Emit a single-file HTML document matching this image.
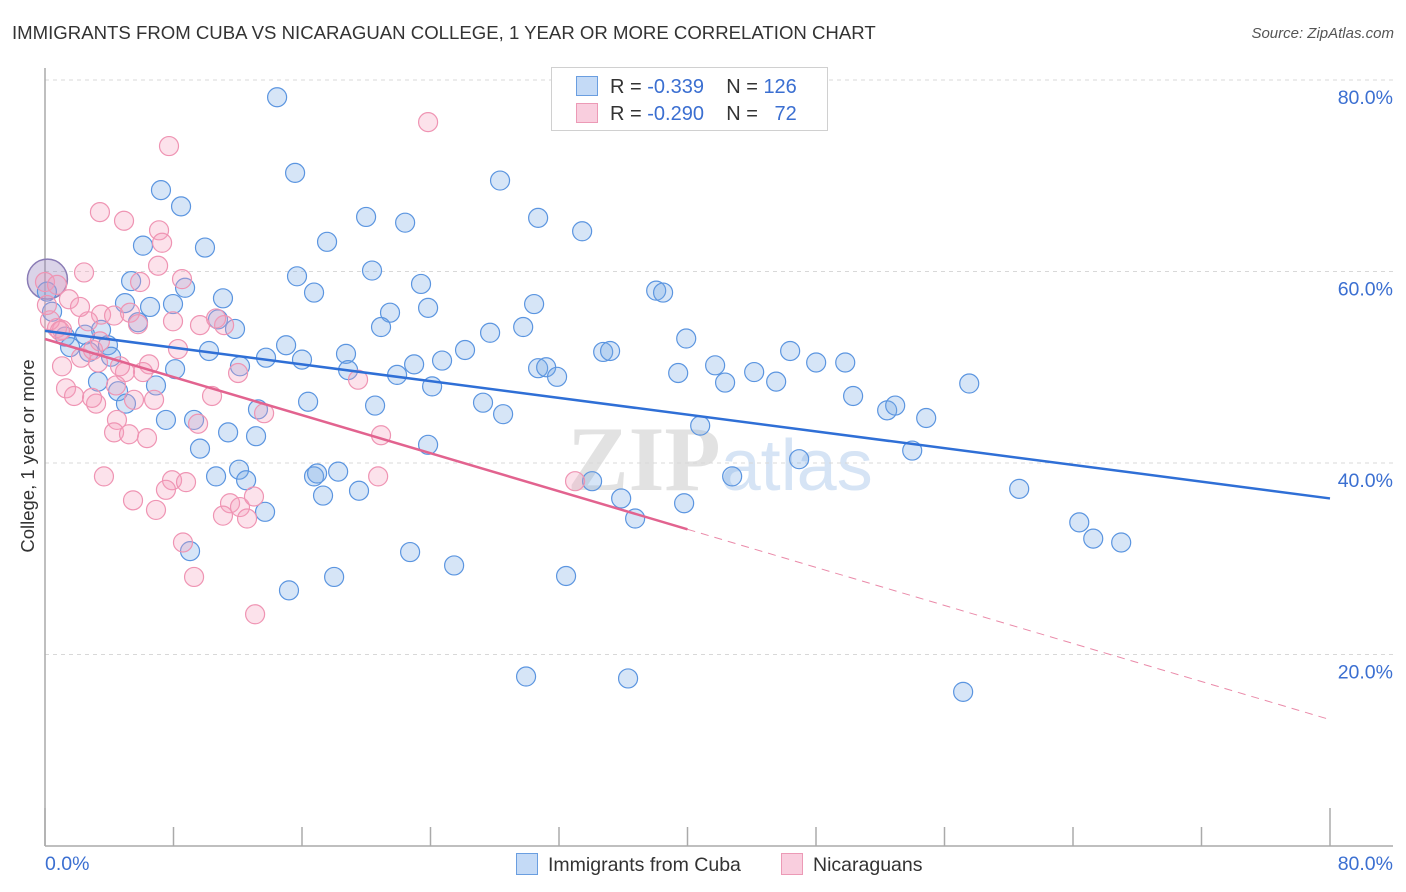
<!DOCTYPE html>
<html><head><meta charset="utf-8"><style>
body{margin:0;background:#fff;font-family:"Liberation Sans",sans-serif;}
#wrap{position:relative;width:1406px;height:892px;overflow:hidden;}
.t{position:absolute;white-space:nowrap;}
</style></head><body>
<div id="wrap">
<div class="t" style="left:12px;top:22px;font-size:18.6px;color:#333;">IMMIGRANTS FROM CUBA VS NICARAGUAN COLLEGE, 1 YEAR OR MORE CORRELATION CHART</div>
<div class="t" style="right:12px;top:25px;font-size:15px;color:#555;font-style:italic;">Source: ZipAtlas.com</div>
<svg id="chart" width="1406" height="892" style="position:absolute;left:0;top:0"></svg>
</div>
<script>
const xTickVals=[0,8,16,24,32,40,48,56,64,72,80];
const yTickVals=[20,40,60,80];
const yTickLabels=["20.0%","40.0%","60.0%","80.0%"];
const xEndLabels=["0.0%","80.0%"];
const cubaX=[14.45,15.57,28.33,7.22,8.47,19.99,22.42,30.70,33.44,17.56,6.10,9.96,20.36,15.69,23.41,5.36,8.72,16.75,38.05,38.48,11.08,4.98,6.54,23.85,30.45,21.48,7.97,0.44,0.12,10.77,5.79,11.83,20.92,29.77,27.71,3.49,1.25,39.92,2.49,3.92,1.56,15.01,26.15,34.75,35.18,46.39,10.21,18.74,16.00,13.76,4.11,2.74,22.98,24.72,12.14,48.01,49.82,41.72,8.10,18.87,30.70,31.20,31.88,39.42,44.15,21.92,3.30,45.52,42.34,24.10,57.54,6.91,4.55,50.31,52.43,52.93,5.04,16.38,27.27,20.55,28.52,13.26,54.86,9.28,7.53,40.79,11.40,13.14,9.65,23.85,53.99,46.95,12.08,10.65,12.52,16.75,18.25,16.94,42.78,34.06,60.65,19.55,17.31,35.87,39.79,13.70,36.74,64.39,65.26,67.00,9.03,22.73,25.47,18.00,32.44,15.19,29.95,36.30,57.16];
const cubaY=[78.2,70.3,69.5,68.5,66.8,65.7,65.1,65.6,64.2,63.1,62.7,62.5,60.1,59.5,58.7,59.0,58.3,57.8,58.0,57.8,57.2,56.7,56.3,56.2,56.6,55.7,56.6,55.8,57.9,55.0,54.7,54.0,54.2,54.2,53.6,53.9,53.2,53.0,53.4,52.3,52.1,52.3,51.8,51.6,51.7,51.7,51.7,51.4,50.8,51.0,51.1,51.6,50.3,50.7,50.1,50.5,50.5,50.2,49.8,49.7,49.9,50.0,49.0,49.4,49.5,49.2,48.5,48.5,48.4,48.0,48.3,48.1,47.5,47.0,45.5,46.0,46.2,46.4,46.3,46.0,45.1,45.6,44.7,44.5,44.5,43.9,43.2,42.8,41.5,41.9,41.3,40.4,39.3,38.6,38.2,38.6,39.1,38.9,38.6,38.1,37.3,37.1,36.6,36.3,35.8,34.9,34.2,33.8,32.1,31.7,30.8,30.7,29.3,28.1,28.2,26.7,17.7,17.5,16.1];
const nicX=[23.85,7.72,3.42,4.92,7.10,7.29,2.43,8.53,7.04,5.92,0.0,0.75,1.49,11.15,9.65,10.65,7.97,3.49,4.30,5.29,2.68,5.79,0.75,1.06,8.28,6.48,2.24,3.30,1.06,12.02,6.10,4.98,4.42,19.49,1.31,1.81,3.18,10.40,6.79,2.93,5.54,9.53,13.64,4.48,4.30,5.23,6.35,20.92,3.67,7.91,8.78,20.74,33.00,7.53,5.48,11.52,12.14,13.01,6.91,11.08,12.58,8.59,9.28,13.08,2.99,0.31,0.12,0.93,4.67,2.18,3.42];
const nicY=[75.6,73.1,66.2,65.3,64.3,63.0,59.9,59.2,60.6,58.9,58.9,58.6,57.1,54.4,54.4,55.1,54.8,55.5,55.4,55.7,54.8,54.5,54.1,53.9,51.9,50.3,51.0,50.5,50.1,49.4,49.5,49.5,48.1,48.7,47.8,47.0,46.2,47.0,46.6,46.8,46.6,44.1,45.2,44.5,43.2,43.0,42.6,42.9,38.6,38.2,38.0,38.6,38.1,37.2,36.1,35.8,35.4,36.5,35.1,34.5,34.2,31.7,28.1,24.2,51.8,54.9,56.5,53.8,50.1,56.3,52.7];
const cubaTrend=[53.8,36.3];
const nicTrend=[52.95,13.2];
const nicSolidEnd=40;

const X0=45,X1=1330,Y0=846,Y80=80;
const sx=v=>X0+(X1-X0)*v/80;
const sy=v=>Y0-(Y0-Y80)*v/80;
const svg=document.getElementById('chart');
const NS='http://www.w3.org/2000/svg';
function mk(tag,attrs,parent){const e=document.createElementNS(NS,tag);for(const k in attrs)e.setAttribute(k,attrs[k]);(parent||svg).appendChild(e);return e;}

let wm=mk('text',{x:720,y:490,'text-anchor':'middle','font-size':'92','font-family':'Liberation Serif, serif',fill:'#e6e6e6'});


wm.innerHTML='<tspan font-weight="bold" fill="#e2e2e2">ZIP</tspan><tspan font-family="Liberation Sans, sans-serif" font-size="72" fill="#d6e4f5">atlas</tspan>';

yTickVals.forEach((v,i)=>{
 let g=mk('line',{x1:X0,x2:1393,y1:sy(v),y2:sy(v),stroke:'#d8d8d8','stroke-dasharray':'4,4'});
 
 
 let t=mk('text',{x:1393,y:sy(v)+24,'text-anchor':'end','font-size':'19.5',fill:'#3b6fd1'});
 
 
 t.textContent=yTickLabels[i];
});
let ax=mk('line',{x1:X0,x2:X0,y1:68,y2:Y0,stroke:'#aaa','stroke-width':1.5});


let axx=mk('line',{x1:X0,x2:1393,y1:Y0,y2:Y0,stroke:'#aaa','stroke-width':1.5});


xTickVals.forEach((v,i)=>{
 let tk=mk('line',{x1:sx(v),x2:sx(v),y1:(i==0||i==10)?Y0-38:Y0-19,y2:Y0,stroke:'#aaa','stroke-width':1.5});
 
 
});
[[0,'start',45],[80,'end',1393]].forEach((a,i)=>{
 let t=mk('text',{x:a[2],y:870,'text-anchor':a[1],'font-size':'19.5',fill:'#3b6fd1'});
 
 
 t.textContent=xEndLabels[i];
});
let yt=mk('text',{x:0,y:0,transform:'translate(34,456) rotate(-90)','text-anchor':'middle','font-size':'18.5',fill:'#333'});


yt.textContent='College, 1 year or more';

let big=mk('circle',{cx:sx(0.15),cy:sy(59.2),r:20,fill:'rgba(150,130,190,0.35)',stroke:'#8a7cb5','stroke-width':1.5});



cubaX.forEach((v,i)=>{
 let c=mk('circle',{cx:sx(v),cy:sy(cubaY[i]),r:9.5,fill:'rgba(120,170,230,0.3)',stroke:'#5b95e0','stroke-width':1.2});
 
 
});
nicX.forEach((v,i)=>{
 let c=mk('circle',{cx:sx(v),cy:sy(nicY[i]),r:9.5,fill:'rgba(245,160,190,0.3)',stroke:'#ef94b3','stroke-width':1.2});
 
 
});
let bl=mk('line',{x1:sx(0),y1:sy(cubaTrend[0]),x2:sx(80),y2:sy(cubaTrend[1]),stroke:'#2f6fd6','stroke-width':2.5});


const nAt=v=>nicTrend[0]+(nicTrend[1]-nicTrend[0])*v/80;
let pl=mk('line',{x1:sx(0),y1:sy(nicTrend[0]),x2:sx(nicSolidEnd),y2:sy(nAt(nicSolidEnd)),stroke:'#e2638f','stroke-width':2.5});


let pd=mk('line',{x1:sx(nicSolidEnd),y1:sy(nAt(nicSolidEnd)),x2:sx(80),y2:sy(nicTrend[1]),stroke:'#ea8aa9','stroke-width':1,'stroke-dasharray':'8,6'});


</script>
<div class="t" style="left:551px;top:67px;width:275px;height:62px;border:1px solid #d0d0d0;background:#fff;font-size:20px;color:#333;">
 <div style="position:absolute;left:24px;top:8px;"><span style="display:inline-block;width:20px;height:18px;background:#c4daf6;border:1px solid #6a9ee0;vertical-align:-3px;margin-right:12px"></span>R = <span style="color:#3b6fd1">-0.339</span>&nbsp;&nbsp;&nbsp;&nbsp;N = <span style="color:#3b6fd1">126</span></div>
 <div style="position:absolute;left:24px;top:35px;"><span style="display:inline-block;width:20px;height:18px;background:#f9cede;border:1px solid #ec9ab6;vertical-align:-3px;margin-right:12px"></span>R = <span style="color:#3b6fd1">-0.290</span>&nbsp;&nbsp;&nbsp;&nbsp;N = &nbsp;&nbsp;<span style="color:#3b6fd1">72</span></div>
</div>
<div class="t" style="left:516px;top:853px;font-size:19.5px;color:#333;"><span style="display:inline-block;width:20px;height:20px;background:#c4daf6;border:1px solid #6a9ee0;vertical-align:-4px;margin-right:10px"></span>Immigrants from Cuba</div>
<div class="t" style="left:781px;top:853px;font-size:19.5px;color:#333;"><span style="display:inline-block;width:20px;height:20px;background:#f9cede;border:1px solid #ec9ab6;vertical-align:-4px;margin-right:10px"></span>Nicaraguans</div>
</body></html>
